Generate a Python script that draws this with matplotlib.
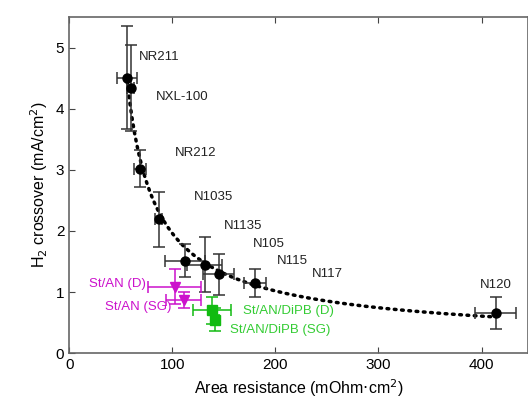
import numpy as np
import matplotlib
matplotlib.use("Agg")
import matplotlib.pyplot as plt

plt.rcParams['font.family'] = ['Liberation Sans', 'DejaVu Sans']

# commercial membranes (black)
res = [56.3, 59.5, 68.9, 86.7, 112.6, 131.4, 145.0, 179.9, 413.6]
res_err = [9.7, 3.6, 5.8, 3.0, 19.4, 17.0, 15.2, 10.7, 20.2]
h2 = [4.51, 4.34, 3.02, 2.19, 1.51, 1.45, 1.29, 1.15, 0.66]
h2_err = [0.84, 0.70, 0.30, 0.45, 0.27, 0.45, 0.34, 0.23, 0.26]

# St/AN membranes (magenta)
stan_res = [102.3, 111.3]
stan_res_err = [25.4, 17.0]
stan_h2 = [1.09, 0.87]
stan_h2_err = [0.28, 0.13]

# St/AN/DiPB membranes (green)
dipb_res = [138.5, 141.7]
dipb_res_err = [18.0, 3.5]
dipb_h2 = [0.70, 0.55]
dipb_h2_err = [0.22, 0.19]

labels = ["NR211", "NXL-100", "NR212", "N1035", "N1135", "N105", "N115", "N117", "N120"]
label_x = [68, 84.5, 102.3, 120.7, 149.8, 178.3, 201, 235.6, 398.4]
label_y = [4.84, 4.20, 3.28, 2.55, 2.08, 1.78, 1.51, 1.30, 1.11]

magenta = "#CC11CC"
green = "#11BB11"

fig = plt.figure(figsize=(5.28, 4.16), dpi=100)
ax = fig.add_axes([0.131, 0.151, 0.869, 0.808])

# guide curve: 1/y linear in sqrt(x), fitted to the commercial membranes
xr = np.array(res)
yr = np.array(h2)
coef = np.polyfit(np.sqrt(xr), 1 / yr, 1, w=yr)
xf = np.linspace(min(res), max(res), 300)
ax.plot(xf, 1 / np.polyval(coef, np.sqrt(xf)), color="black", lw=2.5,
        ls=(0, (0.5, 1.6)), dash_capstyle="round", zorder=2)

ekw = dict(elinewidth=1.1, capsize=4, capthick=1.1, zorder=3)
ax.errorbar(res, h2, xerr=res_err, yerr=h2_err, fmt="o", color="black",
            ecolor="#333333", ms=6.5, **ekw)
ax.errorbar(stan_res, stan_h2, xerr=stan_res_err, yerr=stan_h2_err, fmt="v",
            color=magenta, ms=7, **ekw)
ax.errorbar(dipb_res, dipb_h2, xerr=dipb_res_err, yerr=dipb_h2_err, fmt="s",
            color=green, ms=6.5, **ekw)

for t, x, y in zip(labels, label_x, label_y):
    ax.text(x, y, t, fontsize=9.5, va="center", color="#222222")

ax.text(18.8, 1.13, "St/AN (D)", color=magenta, fontsize=9.5, va="center")
ax.text(35, 0.75, "St/AN (SG)", color=magenta, fontsize=9.5, va="center")
ax.text(168.6, 0.69, "St/AN/DiPB (D)", color="#33CC33", fontsize=9.5, va="center")
ax.text(156.3, 0.38, "St/AN/DiPB (SG)", color="#33CC33", fontsize=9.5, va="center")

ax.set_xlim(0, 445)
ax.set_ylim(0, 5.5)
ax.set_xticks([0, 100, 200, 300, 400])
ax.set_yticks([0, 1, 2, 3, 4, 5])
ax.tick_params(direction="in", top=True, right=False, labelsize=11, length=4,
               color="#444444")
for s in ax.spines.values():
    s.set_color("#666666")
    s.set_linewidth(1.2)

ax.set_xlabel("Area resistance (mOhm$\\cdot$cm$^2$)", fontsize=11.5)
ax.set_ylabel("H$_2$ crossover (mA/cm$^2$)", fontsize=11.5)

fig.savefig("out.png", dpi=100)
